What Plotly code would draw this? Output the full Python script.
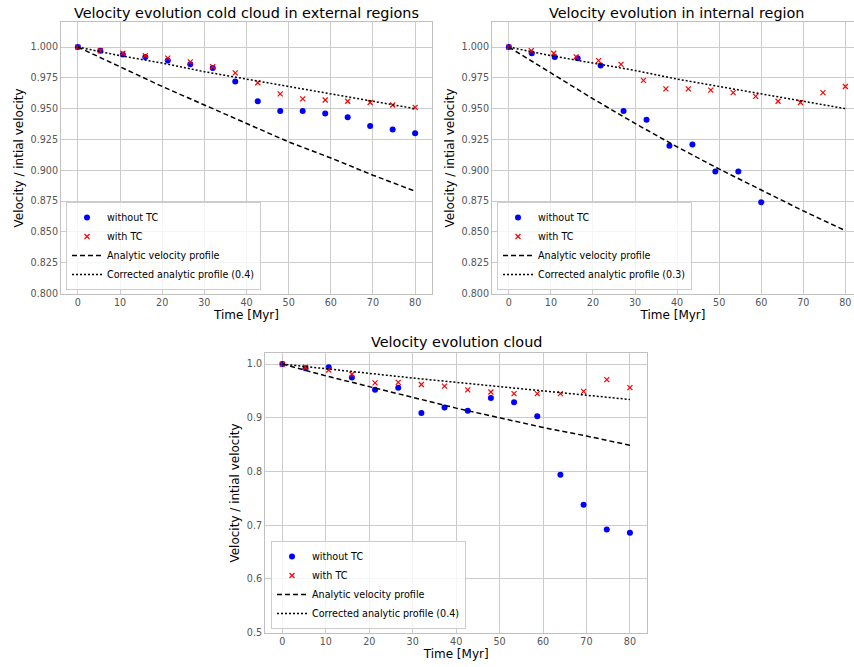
import plotly.graph_objects as go

# ---------------- data ----------------
t16 = [0, 5.33, 10.67, 16, 21.33, 26.67, 32, 37.33, 42.67, 48, 53.33, 58.67, 64, 69.33, 74.67, 80]
t12 = [0, 5.45, 10.91, 16.36, 21.82, 27.27, 32.73, 38.18, 43.64, 49.09, 54.55, 60]
t_line = [0, 10, 20, 30, 40, 50, 60, 70, 80]

ext_without = [1.000, 0.997, 0.994, 0.992, 0.989, 0.986, 0.983, 0.972, 0.956, 0.948, 0.948, 0.946, 0.943, 0.936, 0.933, 0.930]
ext_with = [1.000, 0.997, 0.995, 0.993, 0.991, 0.988, 0.984, 0.979, 0.971, 0.962, 0.958, 0.957, 0.956, 0.955, 0.953, 0.951]
ext_analytic = [1.000, 0.984, 0.968, 0.953, 0.938, 0.923, 0.910, 0.896, 0.883]
ext_corrected = [1.000, 0.993, 0.987, 0.980, 0.974, 0.968, 0.962, 0.956, 0.950]

int_without = [1.000, 0.995, 0.992, 0.991, 0.985, 0.948, 0.941, 0.920, 0.921, 0.899, 0.899, 0.874]
int_with = [1.000, 0.997, 0.995, 0.992, 0.989, 0.986, 0.973, 0.966, 0.966, 0.965, 0.963, 0.960, 0.956, 0.955, 0.963, 0.968]
int_analytic = [1.000, 0.979, 0.958, 0.938, 0.919, 0.901, 0.884, 0.867, 0.851]
int_corrected = [1.000, 0.993, 0.987, 0.981, 0.974, 0.968, 0.962, 0.956, 0.950]

cloud_without = [1.000, 0.992, 0.994, 0.975, 0.952, 0.956, 0.909, 0.919, 0.913, 0.937, 0.929, 0.903, 0.794, 0.738, 0.692, 0.686]
cloud_with = [1.000, 0.994, 0.989, 0.981, 0.965, 0.966, 0.962, 0.959, 0.952, 0.948, 0.945, 0.945, 0.945, 0.949, 0.971, 0.956]
cloud_analytic = [1.000, 0.978, 0.958, 0.938, 0.918, 0.900, 0.882, 0.866, 0.849]
cloud_corrected = [1.000, 0.991, 0.983, 0.974, 0.966, 0.958, 0.950, 0.942, 0.934]

titles = ["Velocity evolution cold cloud in external regions",
          "Velocity evolution in internal region",
          "Velocity evolution cloud"]
corr_labels = ["Corrected analytic profile (0.4)",
               "Corrected analytic profile (0.3)",
               "Corrected analytic profile (0.4)"]

W, H = 854, 667
FONT = "DejaVu Sans"

fig = go.Figure()

panels = [
    ("x", "y", "legend", t16, ext_without, t16, ext_with, ext_analytic, ext_corrected),
    ("x2", "y2", "legend2", t12, int_without, t16, int_with, int_analytic, int_corrected),
    ("x3", "y3", "legend3", t16, cloud_without, t16, cloud_with, cloud_analytic, cloud_corrected),
]

for i, (xa, ya, lg, tw, vw, tc, vc, va, vcor) in enumerate(panels):
    fig.add_trace(go.Scatter(x=tw, y=vw, mode="markers", name="without TC",
                             marker=dict(color="blue", size=6, symbol="circle"),
                             xaxis=xa, yaxis=ya, legend=lg, cliponaxis=False))
    fig.add_trace(go.Scatter(x=tc, y=vc, mode="markers", name="with TC",
                             marker=dict(color="red", size=5, symbol="x-thin",
                                         line=dict(color="red", width=1.2)),
                             xaxis=xa, yaxis=ya, legend=lg, cliponaxis=False))
    fig.add_trace(go.Scatter(x=t_line, y=va, mode="lines", name="Analytic velocity profile",
                             line=dict(color="black", width=1.5, dash="5px,3px"),
                             xaxis=xa, yaxis=ya, legend=lg))
    fig.add_trace(go.Scatter(x=t_line, y=vcor, mode="lines", name=corr_labels[i],
                             line=dict(color="black", width=1.5, dash="2px,2px"),
                             xaxis=xa, yaxis=ya, legend=lg))

def px_x(p):
    return p / W

def px_y(p):
    return 1 - p / H

grid = "#cccccc"
spine = "#c0c0c0"
tickfont = dict(family=FONT, size=9.6, color="#555555")
labfont = dict(family=FONT, size=12, color="black")

def xaxis(domain, rng, anchor):
    return dict(domain=domain, range=rng, anchor=anchor, tickvals=[0, 10, 20, 30, 40, 50, 60, 70, 80],
                showgrid=True, gridcolor=grid, gridwidth=1, zeroline=False, automargin=False,
                showline=True, linecolor=spine, linewidth=1, mirror=True, ticks="",
                tickfont=tickfont, title=dict(text="Time [Myr]", font=labfont, standoff=3))

def yaxis(domain, rng, anchor, tv, fmt):
    return dict(domain=domain, range=rng, anchor=anchor, tickvals=tv, tickformat=fmt,
                showgrid=True, gridcolor=grid, gridwidth=1, zeroline=False, automargin=False,
                showline=True, linecolor=spine, linewidth=1, mirror=True, ticks="",
                tickfont=tickfont, title=dict(text="Velocity / intial velocity", font=labfont, standoff=4))

top_ticks = [0.8 + 0.025 * k for k in range(9)]
bot_ticks = [0.5, 0.6, 0.7, 0.8, 0.9, 1.0]

legend_style = dict(bgcolor="rgba(255,255,255,0.8)", bordercolor="#cccccc", borderwidth=1,
                    font=dict(family=FONT, size=9.6, color="black"),
                    xanchor="left", yanchor="bottom", tracegroupgap=0, itemwidth=30)

fig.update_layout(
    width=W, height=H, margin=dict(l=0, r=0, t=0, b=0, autoexpand=False),
    paper_bgcolor="white", plot_bgcolor="white",
    font=dict(family=FONT),
    xaxis=xaxis([px_x(61), px_x(432)], [-4, 84], "y"),
    yaxis=yaxis([px_y(293.5), px_y(22.4)], [0.8, 1.02], "x", top_ticks, ".3f"),
    xaxis2=xaxis([px_x(492), 1.0], [-4, 82.05], "y2"),
    yaxis2=yaxis([px_y(293.5), px_y(22.4)], [0.8, 1.02], "x2", top_ticks, ".3f"),
    xaxis3=xaxis([px_x(265), px_x(647.3)], [-4, 84], "y3"),
    yaxis3=yaxis([px_y(632.7), px_y(353.3)], [0.5, 1.02], "x3", bot_ticks, ".1f"),
    legend=dict(x=px_x(66), y=px_y(290), **legend_style),
    legend2=dict(x=px_x(497), y=px_y(290), **legend_style),
    legend3=dict(x=px_x(271), y=px_y(629), **legend_style),
    showlegend=True,
)

title_pos = [(246.5, 13), (676.5, 13), (456, 342)]
for txt, (cx, cy) in zip(titles, title_pos):
    fig.add_annotation(text=txt, x=px_x(cx), y=px_y(cy), xref="paper", yref="paper",
                       xanchor="center", yanchor="middle", showarrow=False,
                       font=dict(family=FONT, size=14.4, color="black"))

# remove the default 8px page margin so the figure fills the 854x667 window exactly
fig.write_html("out.html", config={"displayModeBar": False},
               post_script="document.body.style.margin='0';document.body.style.overflow='hidden';")
